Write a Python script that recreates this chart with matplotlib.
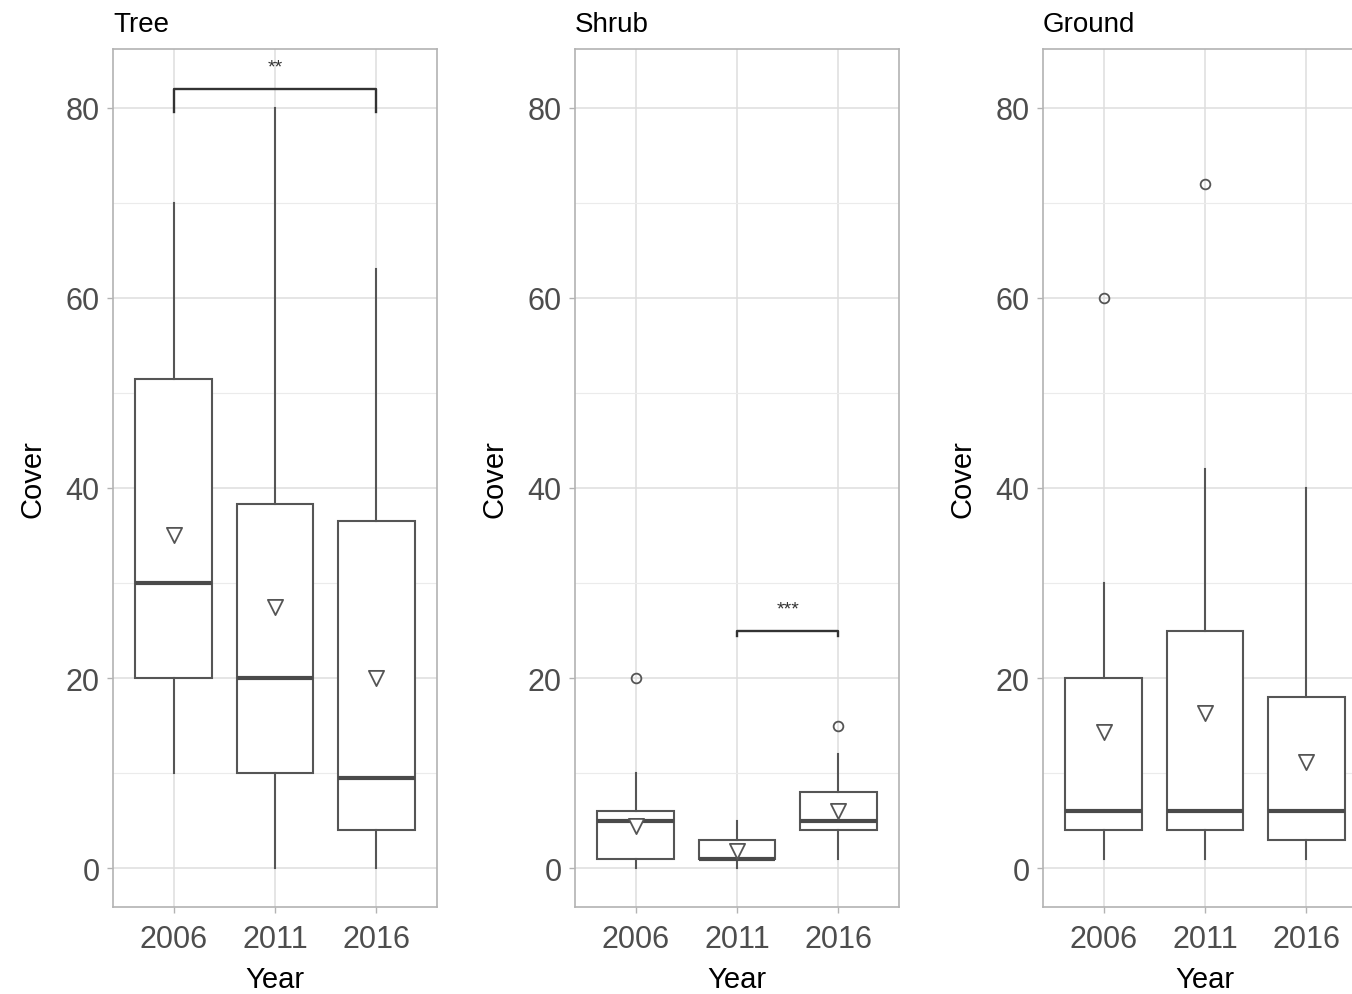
import matplotlib.pyplot as plt

plt.rcParams["font.family"] = ["Liberation Sans", "DejaVu Sans"]

years = ["2006", "2011", "2016"]
panels = ["Tree", "Shrub", "Ground"]

# per panel, per year: whisker low, Q1, median, Q3, whisker high
tree_stats = [(10, 20, 30, 51.5, 70), (0, 10, 20, 38.3, 80), (0, 4, 9.5, 36.5, 63)]
shrub_stats = [(0, 1, 5, 6, 10), (0, 1, 1, 3, 5), (1, 4, 5, 8, 12)]
ground_stats = [(1, 4, 6, 20, 30), (1, 4, 6, 25, 42), (1, 3, 6, 18, 40)]

tree_means = [35, 27.5, 20]
shrub_means = [4.4, 1.8, 6]
ground_means = [14.3, 16.3, 11.2]

tree_outliers = [[], [], []]
shrub_outliers = [[20], [], [15]]
ground_outliers = [[60], [72], []]

# significance brackets: (from, to, height, label)
tree_sig = [(1, 3, 82, "**")]
shrub_sig = [(2, 3, 25, "***")]
ground_sig = []

all_stats = [tree_stats, shrub_stats, ground_stats]
all_means = [tree_means, shrub_means, ground_means]
all_out = [tree_outliers, shrub_outliers, ground_outliers]
all_sig = [tree_sig, shrub_sig, ground_sig]
tip_len = [2.4, 0.6, 0]

W, H = 1352, 995
fig = plt.figure(figsize=(W / 100, H / 100), dpi=100)

LINE = "#555555"
lefts = [113, 575, 1043]
for k, name in enumerate(panels):
    ax = fig.add_axes([lefts[k] / W, (H - 908) / H, 324 / W, (908 - 50) / H])
    bxp = []
    for s, o in zip(all_stats[k], all_out[k]):
        bxp.append(dict(whislo=s[0], q1=s[1], med=s[2], q3=s[3], whishi=s[4], fliers=o))
    ax.bxp(bxp, positions=[1, 2, 3], widths=0.76, showcaps=False, patch_artist=True,
           boxprops=dict(facecolor="white", edgecolor=LINE, linewidth=1.5),
           whiskerprops=dict(color=LINE, linewidth=1.5),
           medianprops=dict(color="#4a4a4a", linewidth=3.0, solid_capstyle="butt"),
           flierprops=dict(marker="o", markerfacecolor="none", markeredgecolor=LINE,
                           markersize=7, markeredgewidth=1.3),
           zorder=3)
    ax.scatter([1, 2, 3], all_means[k], marker="v", s=120, facecolors="white",
               edgecolors=LINE, linewidths=1.3, zorder=4)
    for a, b, h, lab in all_sig[k]:
        t = tip_len[k]
        ax.plot([a, a, b, b], [h - t, h, h, h - t], color="#333333", lw=1.7, zorder=5)
        ax.text((a + b) / 2, h + 1.4, lab, ha="center", va="bottom", fontsize=14, color="#333333")

    ax.set_xlim(0.4, 3.6)
    ax.set_ylim(-4.1, 86.2)
    ax.set_xticks([1, 2, 3])
    ax.set_xticklabels(years)
    ax.set_yticks([0, 20, 40, 60, 80])
    ax.set_yticks([10, 30, 50, 70], minor=True)
    ax.grid(True, which="major", color="#dedede", lw=1.1, zorder=0)
    ax.grid(True, which="minor", axis="y", color="#ebebeb", lw=0.8, zorder=0)
    ax.set_axisbelow(True)
    ax.tick_params(which="major", length=4.5, width=1, color="#b3b3b3",
                   labelsize=22, labelcolor="#4d4d4d")
    ax.tick_params(axis="x", pad=8)
    ax.tick_params(axis="y", pad=5)
    ax.tick_params(which="minor", length=0)
    for sp in ax.spines.values():
        sp.set_color("#b3b3b3")
        sp.set_linewidth(1.2)
    ax.set_xlabel("Year", fontsize=21, labelpad=8)
    ax.set_ylabel("Cover", fontsize=21, labelpad=14)
    ax.set_title(name, loc="left", fontsize=20, pad=13)

fig.savefig("out.png", dpi=100)
